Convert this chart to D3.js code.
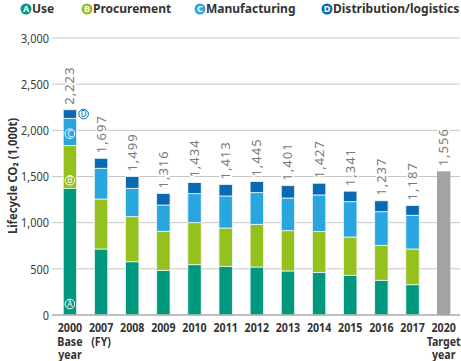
<!DOCTYPE html>
<html>
<head>
<meta charset="utf-8">
<script src="https://cdn.jsdelivr.net/npm/d3@7"></script>
<style>
  body { margin: 0; background: #fff; }
  svg { display: block; font-family: "Noto Sans", "Open Sans", sans-serif; }
</style>
</head>
<body>
<div id="chart"></div>
<script>
// data
const years = ["2000", "2007", "2008", "2009", "2010", "2011", "2012", "2013", "2014", "2015", "2016", "2017", "2020"];
const yearLabels = [["2000", "Base", "year"], ["2007", "(FY)"], ["2008"], ["2009"], ["2010"], ["2011"], ["2012"],
  ["2013"], ["2014"], ["2015"], ["2016"], ["2017"], ["2020", "Target", "year"]];
const useVals = [1372, 715, 577, 484, 545, 527, 520, 477, 462, 430, 376, 328];
const procurementVals = [462, 541, 488, 423, 455, 415, 462, 436, 441, 415, 379, 387];
const manufacturingVals = [296, 333, 307, 284, 314, 347, 343, 354, 397, 382, 364, 365];
const totals = [2223, 1697, 1499, 1316, 1434, 1413, 1445, 1401, 1427, 1341, 1237, 1187, 1556];
const targetYear = "2020";
const seriesNames = ["Use", "Procurement", "Manufacturing", "Distribution/logistics"];
const seriesLetters = ["A", "B", "C", "D"];
const yTicks = [0, 500, 1000, 1500, 2000, 2500, 3000];

const colors = ["#00997f", "#95c11f", "#29a6e0", "#0a69b4"];
const width = 461, height = 361;
const squeeze = 0.84; // the original font is a condensed one

// distribution = remainder of total
const distributionVals = totals.slice(0, 12).map((t, i) => t - useVals[i] - procurementVals[i] - manufacturingVals[i]);

const rows = years.slice(0, 12).map((y, i) => ({
  year: y,
  Use: useVals[i],
  Procurement: procurementVals[i],
  Manufacturing: manufacturingVals[i],
  "Distribution/logistics": distributionVals[i]
}));

const svg = d3.select("#chart").append("svg")
  .attr("width", width)
  .attr("height", height);

const x = d3.scaleBand()
  .domain(years)
  .range([57, 456.6])
  .paddingInner(0.57)
  .paddingOuter(0.2);

const y = d3.scaleLinear()
  .domain([0, 3000])
  .range([315, 38]);

const cx = d => x(d) + x.bandwidth() / 2;

// gridlines
svg.append("g")
  .selectAll("line")
  .data(yTicks.filter(d => d > 0))
  .join("line")
  .attr("x1", 52).attr("x2", 460)
  .attr("y1", d => y(d)).attr("y2", d => y(d))
  .attr("stroke", "#c6c6c6")
  .attr("stroke-width", 1);

// y tick labels
svg.append("g")
  .selectAll("text")
  .data(yTicks)
  .join("text")
  .attr("transform", d => `translate(49,${y(d)}) scale(${squeeze},1)`)
  .attr("dy", "0.36em")
  .attr("text-anchor", "end")
  .attr("fill", "#3a3a3a")
  .style("font-size", "13px")
  .text(d => d3.format(",")(d));

// y title
svg.append("text")
  .attr("transform", `translate(12,176) rotate(-90) scale(0.9,1)`)
  .attr("text-anchor", "middle")
  .attr("dy", "0.36em")
  .attr("fill", "#333")
  .style("font-size", "12.5px")
  .style("font-weight", "bold")
  .text("Lifecycle CO\u2082 (1,000t)");

// stacked bars
const stack = d3.stack().keys(seriesNames)(rows);
svg.append("g")
  .selectAll("g")
  .data(stack)
  .join("g")
  .attr("fill", (d, i) => colors[i])
  .selectAll("rect")
  .data(d => d)
  .join("rect")
  .attr("x", d => x(d.data.year))
  .attr("width", x.bandwidth())
  .attr("y", d => y(d[1]))
  .attr("height", d => y(d[0]) - y(d[1]))
  .attr("stroke", "#eef8f4")
  .attr("stroke-width", 0.8);

// target bar
svg.append("rect")
  .attr("x", x(targetYear))
  .attr("width", x.bandwidth())
  .attr("y", y(totals[12]))
  .attr("height", y(0) - y(totals[12]))
  .attr("fill", "#a3a3a3");

// baseline
svg.append("line")
  .attr("x1", 52).attr("x2", 460)
  .attr("y1", y(0)).attr("y2", y(0))
  .attr("stroke", "#aaaaaa")
  .attr("stroke-width", 1.5);

// total labels
svg.append("g")
  .selectAll("text")
  .data(years)
  .join("text")
  .attr("transform", (d, i) => `translate(${cx(d) + 4.5},${y(totals[i]) - 5}) rotate(-90)`)
  .attr("fill", "#7a7a7a")
  .attr("stroke", "#fff")
  .attr("stroke-width", 3)
  .attr("paint-order", "stroke")
  .style("font-size", "13px")
  .style("letter-spacing", "1px")
  .text((d, i) => d3.format(",")(totals[i]));

// x labels
const xl = svg.append("g")
  .selectAll("text")
  .data(years)
  .join("text")
  .attr("transform", d => `translate(${cx(d)},332) scale(0.82,1)`)
  .attr("text-anchor", "middle")
  .attr("fill", "#333")
  .style("font-size", "13px")
  .style("font-weight", "bold");
xl.selectAll("tspan")
  .data((d, i) => yearLabels[i])
  .join("tspan")
  .attr("x", 0)
  .attr("dy", (d, j) => j === 0 ? 0 : 13.5)
  .text(d => d);

// letter markers on the base year bar
function marker(g, mx, my, letter, fill, stroke, textColor) {
  g.append("circle").attr("cx", mx).attr("cy", my).attr("r", 4.8)
    .attr("fill", fill).attr("stroke", stroke).attr("stroke-width", 1);
  g.append("text").attr("x", mx).attr("y", my).attr("dy", "0.36em")
    .attr("text-anchor", "middle").attr("fill", textColor)
    .style("font-size", "8px")
    .text(letter);
}
const base = rows[0];
const bx = cx(base.year);
const mk = svg.append("g");
marker(mk, bx, y(0) - 11, "A", "none", "#fff", "#fff");
marker(mk, bx, y(base.Use) - 8, "B", "none", "#fff", "#fff");
marker(mk, bx, y(base.Use + base.Procurement) - 12, "C", "none", "#fff", "#fff");
marker(mk, x(base.year) + x.bandwidth() + 7, y(totals[0] - base["Distribution/logistics"] / 2), "D", "#fff", colors[3], colors[3]);

// legend
const legendX = [26, 87, 200, 327];
const lg = svg.append("g")
  .selectAll("g")
  .data(seriesNames)
  .join("g")
  .attr("transform", (d, i) => `translate(${legendX[i]},9)`);
lg.append("circle").attr("r", 5.5).attr("fill", (d, i) => colors[i]);
lg.append("text")
  .attr("text-anchor", "middle").attr("dy", "0.36em")
  .attr("fill", "#fff")
  .style("font-size", "9px").style("font-weight", "bold")
  .text((d, i) => seriesLetters[i]);
lg.append("text")
  .attr("x", 6)
  .attr("dy", "0.36em")
  .attr("fill", "#333")
  .style("font-size", "12px")
  .style("font-weight", "bold")
  .text(d => d);
</script>
</body>
</html>
